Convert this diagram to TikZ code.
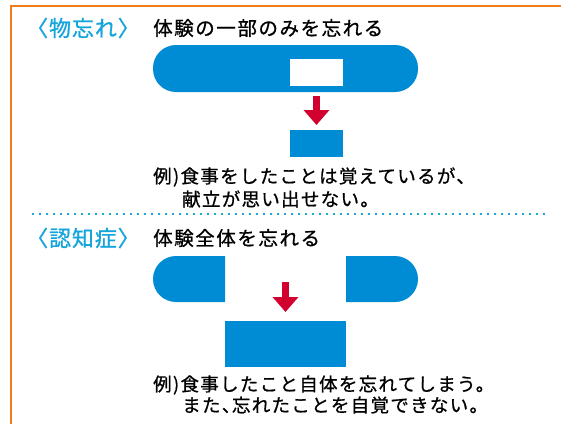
\documentclass[tikz,border=0pt]{standalone}
\usepackage{fontspec}
\setmainfont{Noto Sans CJK JP}
\newfontfamily\jphead[LetterSpace=4,FakeBold=0.8]{Noto Sans CJK JP}
\newfontfamily\jptitle[LetterSpace=8,FakeBold=0.8]{Noto Sans CJK JP}
\newfontfamily\jpbody[LetterSpace=7,FakeBold=0.8]{Noto Sans CJK JP}
\usetikzlibrary{arrows.meta}
\definecolor{frameorange}{HTML}{F07C1C}
\definecolor{headcyan}{HTML}{14A5DC}
\definecolor{pillblue}{HTML}{008BD5}
\definecolor{arrowred}{HTML}{D1002E}
\definecolor{dotcyan}{HTML}{1AA8DC}
\tikzset{
  headtext/.style={font=\jphead\fontsize{22bp}{26bp}\selectfont, text=headcyan, anchor=west, inner sep=0pt},
  titletext/.style={font=\jptitle\fontsize{19.5bp}{24bp}\selectfont, text=black, anchor=west, inner sep=0pt},
  bodytext/.style={font=\jpbody\fontsize{18.5bp}{22bp}\selectfont, text=black, anchor=west, inner sep=0pt},
  downarrow/.style={arrowred, line width=7.5bp, -{Triangle[width=25bp,length=15bp]}},
}
\begin{document}
\begin{tikzpicture}[x=1bp,y=-1bp]
\useasboundingbox (0,0) rectangle (561,423);
\fill[white] (0,0) rectangle (561,423);
% orange frame (cropped)
\draw[frameorange, line width=2bp] (11,430) -- (11,6) -- (570,6);

% section 1
\node[headtext] (h1) at (26,28) {〈物忘れ〉};
\node[titletext] (t1) at (153,28) {体験の一部のみを忘れる};
\fill[pillblue, rounded corners=23bp] (153,45) rectangle (418,92);
\fill[white] (290,59) rectangle (343,86);
\coordinate (a1s) at (316.5,96);
\coordinate (a1e) at (316.5,125);
\draw[downarrow] (a1s) -- (a1e);
\fill[pillblue] (290,130) rectangle (343,157);
\node[bodytext] (b1) at (153,177) {例)食事をしたことは覚えているが、};
\node[bodytext] (b2) at (182,199) {献立が思い出せない。};

% dotted separator
\draw[dotcyan, line width=2.2bp, dash pattern=on 2.2bp off 4.8bp] (32,214) -- (549,214);

% section 2
\node[headtext] (h2) at (26,238) {〈認知症〉};
\node[titletext] (t2) at (153,238) {体験全体を忘れる};
\fill[pillblue] (225,256) -- (176,256) arc (270:90:23) -- (225,302) -- cycle;
\fill[pillblue] (346,256) -- (395,256) arc (-90:90:23) -- (346,302) -- cycle;
\coordinate (a2s) at (285.5,282);
\coordinate (a2e) at (285.5,312);
\draw[downarrow] (a2s) -- (a2e);
\fill[pillblue] (225,321) rectangle (346,367);
\node[bodytext] (b3) at (153,385) {例)食事したこと自体を忘れてしまう。};
\node[bodytext] (b4) at (182,405) {また、\kern-0.45em 忘れたことを自覚できない。};
\end{tikzpicture}
\end{document}
